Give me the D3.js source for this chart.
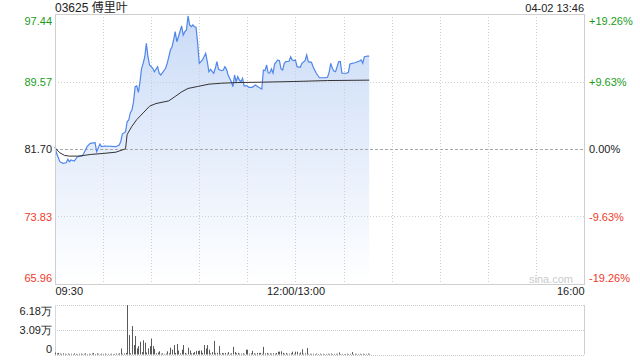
<!DOCTYPE html>
<html>
<head>
<meta charset="utf-8">
<script src="https://cdn.jsdelivr.net/npm/d3@7"></script>
<style>
  body { margin: 0; background: #fff; }
  svg { display: block; font-family: "Liberation Sans", Arial, "Noto Sans CJK SC", sans-serif; }
</style>
</head>
<body>
<svg id="chart" width="640" height="360"></svg>
<script>
// minute index from 09:30 (lunch break skipped: 150 = 12:00/13:00)
const priceMinutes = [0,1,3,5,7,8,9,10,12,14,17,18,20,22,25,26,28,29,31,38,40,41,42,44,45,46,47,48,49,50,51,52,53,54,55,56,57,58,59,61,62,64,65,66,69,70,72,73,74,75,76,77,79,80,81,82,83,84,85,86,87,88,89,90,92,94,95,96,97,99,100,101,102,104,105,106,107,108,110,111,112,113,114,115,116,117,118,120,121,123,125,127,129,130,131,132,133,134,135,136,137,139,140,141,142,143,144,146,147,148,149,150,151,153,154,156,157,158,160,161,163,165,168,170,171,172,173,174,175,177,178,179,182,183,184,187,190,191,192,193,195,196];
const priceValues = [81.97,81.20,80.22,80.03,80.10,80.50,80.22,80.42,80.30,80.80,80.88,81.20,81.97,82.36,82.44,81.39,82.28,81.97,82.05,81.97,82.17,82.55,83.45,83.72,84.88,85.08,85.93,86.25,87.22,88.96,89.05,88.30,89.50,91.11,91.69,92.46,94.02,92.46,91.49,91.11,90.71,91.30,90.53,90.33,91.11,91.69,93.24,93.63,94.41,95.38,94.21,94.79,96.04,94.99,95.38,95.57,97.21,96.16,95.96,96.16,95.96,95.89,94.02,91.69,92.08,92.86,91.88,90.71,90.99,90.53,91.11,91.88,90.99,90.83,90.91,91.30,90.99,90.33,89.55,88.96,90.33,89.55,90.13,89.74,89.55,89.94,89.05,89.05,88.89,88.89,89.16,88.89,88.70,90.91,90.83,91.49,90.56,90.56,91.03,90.56,91.61,92.08,92.00,91.03,90.91,91.69,91.88,91.93,92.46,92.08,92.00,92.08,91.30,91.23,91.69,92.00,92.66,91.88,91.81,91.30,90.53,90.01,90.01,90.06,90.64,91.69,91.11,90.79,90.71,91.88,91.88,90.53,90.53,90.64,91.61,91.76,91.96,92.08,91.69,92.46,92.54,92.54];

const avgMinutes = [0,3,6,9,14,18,22,30,38,44,45,48,51,55,59,63,71,75,79,83,89,96,104,114,129,149,170,196];
const avgValues = [81.85,81.26,80.95,80.87,80.87,80.95,81.06,81.18,81.33,81.72,83.39,84.35,85.13,85.91,86.69,87.00,87.31,87.83,88.36,88.76,88.99,89.26,89.37,89.45,89.49,89.57,89.68,89.73];

// volume per minute, 0..196
const volumes = [
  2500,1500,2000,1200,800,1500,1000,600,1200,800,
  1000,600,1400,800,500,1000,1200,700,900,1500,
  600,1000,800,1300,2000,700,1500,900,600,1000,
  800,1200,500,900,700,1000,600,800,1200,900,
  1500,7500,900,1200,2000,61800,24300,1500,35500,11800,
  23000,7600,10500,16000,3000,17800,14700,2500,7600,10500,
  20000,10500,7000,1500,2500,4000,1000,1500,800,1200,
  4000,1500,8500,6000,11800,2000,13000,5000,1500,6000,
  11800,2000,1000,8500,5000,1500,2000,3000,4500,4500,
  5000,5000,2000,11800,7500,11800,6000,1500,3000,17000,
  1500,2000,10500,1000,2000,1500,2000,1000,3000,1000,
  1500,9500,3000,1500,2000,1000,1000,1500,800,6000,
  6000,1000,1500,4500,1500,1000,2000,2000,2000,1000,
  9500,1500,2000,1000,1500,1000,1500,1000,2000,3500,
  3500,4000,2000,1000,2000,800,1000,1500,3500,1000,
  3500,3500,1000,2500,6500,1000,1500,8000,800,1000,
  800,1000,600,1200,800,1000,700,900,600,800,
  1000,700,1200,600,900,800,1000,2500,700,900,
  600,800,1000,700,900,3000,600,1000,800,700,
  900,600,1000,800,700,1200,900
];

const prevClose = 81.70;
const priceTicks = [97.44, 89.57, 81.70, 73.83, 65.96];
const pctLabels = ["+19.26%", "+9.63%", "0.00%", "-9.63%", "-19.26%"];
const timeTicks = [0, 150, 330];
const timeLabels = ["09:30", "12:00/13:00", "16:00"];
const volTicks = [61800, 30900, 0];
const volLabels = ["6.18万", "3.09万", "0"];
const stockTitle = "03625 傅里叶";
const stamp = "04-02 13:46";

const svg = d3.select("#chart");
const pLeft = 55, pRight = 584, pTop = 14, pBottom = 284;
const vTop = 305, vBottom = 354.5;

const x = d3.scaleLinear().domain([0, 330]).range([pLeft, pRight]);
const y = d3.scaleLinear().domain([65.96, 97.44]).range([pBottom, pTop]);
const yv = d3.scaleLinear().domain([0, 61800]).range([vBottom, vTop]);

const colorOf = (v) => v > prevClose + 0.001 ? "#1a9c1a" : v < prevClose - 0.001 ? "#f03a2a" : "#222";

// gradient for the area
const defs = svg.append("defs");
const grad = defs.append("linearGradient")
  .attr("id", "fillGrad")
  .attr("gradientUnits", "userSpaceOnUse")
  .attr("x1", 0).attr("y1", pTop).attr("x2", 0).attr("y2", pBottom);
grad.append("stop").attr("offset", "0%").attr("stop-color", "#cadbf7");
grad.append("stop").attr("offset", "100%").attr("stop-color", "#ffffff");

// price area (under the grid)
const pts = priceMinutes.map((m, i) => [m, priceValues[i]]);
svg.append("path")
  .datum(pts)
  .attr("d", d3.area().x((d) => x(d[0])).y0(pBottom).y1((d) => y(d[1])))
  .style("fill", "url(#fillGrad)");

// vertical grid
const vGrid = d3.range(30, 330, 30);
svg.append("g")
  .selectAll("line")
  .data(vGrid)
  .enter()
  .append("line")
  .attr("x1", (d) => Math.round(x(d)) + 0.5)
  .attr("x2", (d) => Math.round(x(d)) + 0.5)
  .attr("y1", pTop)
  .attr("y2", pBottom)
  .style("stroke", "#cfcfcf")
  .style("stroke-dasharray", "1,2");

// horizontal grid
svg.append("g")
  .selectAll("line")
  .data([89.57, 81.70, 73.83])
  .enter()
  .append("line")
  .attr("x1", pLeft)
  .attr("x2", pRight)
  .attr("y1", (d) => Math.round(y(d)) + 0.5)
  .attr("y2", (d) => Math.round(y(d)) + 0.5)
  .style("stroke", (d) => (d == prevClose ? "#a8a8a8" : "#cfcfcf"))
  .style("stroke-dasharray", (d) => (d == prevClose ? "3,2" : "1,2"));

// price + average lines
svg.append("path")
  .datum(pts)
  .attr("d", d3.line().x((d) => x(d[0])).y((d) => y(d[1])))
  .style("fill", "none")
  .style("stroke", "#4f86ea")
  .style("stroke-width", 1.2);

svg.append("path")
  .datum(avgMinutes.map((m, i) => [m, avgValues[i]]))
  .attr("d", d3.line().x((d) => x(d[0])).y((d) => y(d[1])))
  .style("fill", "none")
  .style("stroke", "#333")
  .style("stroke-width", 1);

// frame of the price panel
svg.append("rect")
  .attr("x", pLeft + 0.5).attr("y", pTop + 0.5)
  .attr("width", pRight - pLeft).attr("height", pBottom - pTop)
  .style("fill", "none")
  .style("stroke", "#cfcfcf");

// left price axis
const axL = svg.append("g")
  .attr("transform", `translate(${pLeft - 3},0)`)
  .call(d3.axisLeft(y).tickValues(priceTicks).tickSize(0).tickPadding(0).tickFormat(d3.format(".2f")));
axL.select(".domain").remove();
axL.selectAll("text")
  .style("font-size", "11px")
  .style("fill", (d) => colorOf(d))
  .attr("dy", (d, i) => (i == 0 ? "0.95em" : i == priceTicks.length - 1 ? "-0.25em" : "0.32em"));

// right pct axis
const axR = svg.append("g")
  .attr("transform", `translate(${pRight + 5},0)`)
  .call(d3.axisRight(y).tickValues(priceTicks).tickSize(0).tickPadding(0).tickFormat((d, i) => pctLabels[i]));
axR.select(".domain").remove();
axR.selectAll("text")
  .style("font-size", "11px")
  .style("fill", (d) => colorOf(d))
  .attr("dy", (d, i) => (i == 0 ? "0.95em" : i == priceTicks.length - 1 ? "-0.25em" : "0.32em"));

// time axis
const axB = svg.append("g")
  .attr("transform", `translate(0,${pBottom + 3})`)
  .call(d3.axisBottom(x).tickValues(timeTicks).tickSize(0).tickPadding(0).tickFormat((d, i) => timeLabels[i]));
axB.select(".domain").remove();
axB.selectAll("text")
  .style("font-size", "11px")
  .style("fill", "#222")
  .attr("text-anchor", (d, i) => (i == 0 ? "start" : i == timeTicks.length - 1 ? "end" : "middle"));

// titles
svg.append("text")
  .attr("x", pLeft).attr("y", 12)
  .style("font-size", "12px").style("fill", "#222")
  .text(stockTitle);
svg.append("text")
  .attr("x", pRight).attr("y", 12)
  .attr("text-anchor", "end")
  .style("font-size", "11px").style("fill", "#222")
  .text(stamp);

// watermark
svg.append("text")
  .attr("x", 573).attr("y", 283)
  .attr("text-anchor", "end")
  .style("font-size", "11px").style("fill", "#cccccc")
  .text("sina.com");

// volume panel grid
svg.append("g")
  .selectAll("line")
  .data(volTicks)
  .enter()
  .append("line")
  .attr("x1", pLeft)
  .attr("x2", pRight)
  .attr("y1", (d) => Math.round(yv(d)) + 0.5)
  .attr("y2", (d) => Math.round(yv(d)) + 0.5)
  .style("stroke", "#c8c8c8")
  .style("stroke-dasharray", "1,1");
svg.append("line")
  .attr("x1", pLeft + 0.5).attr("x2", pLeft + 0.5)
  .attr("y1", vTop).attr("y2", vBottom)
  .style("stroke", "#d8d8d8");
svg.append("line")
  .attr("x1", pRight + 0.5).attr("x2", pRight + 0.5)
  .attr("y1", vTop).attr("y2", vBottom)
  .style("stroke", "#cfcfcf");

// volume bars
svg.append("g")
  .selectAll("rect")
  .data(volumes)
  .enter()
  .append("rect")
  .attr("x", (d, i) => Math.round(x(i)))
  .attr("width", 1)
  .attr("y", (d) => yv(d))
  .attr("height", (d) => vBottom - yv(d))
  .style("fill", "#595959");

// volume axis
const axV = svg.append("g")
  .attr("transform", `translate(${pLeft - 3},0)`)
  .call(d3.axisLeft(yv).tickValues(volTicks).tickSize(0).tickPadding(0).tickFormat((d, i) => volLabels[i]));
axV.select(".domain").remove();
axV.selectAll("text")
  .style("font-size", "11px")
  .style("fill", "#222")
  .attr("dy", (d, i) => (i == 0 ? "0.85em" : i == volTicks.length - 1 ? "-0.2em" : "0.32em"));
</script>
</body>
</html>
